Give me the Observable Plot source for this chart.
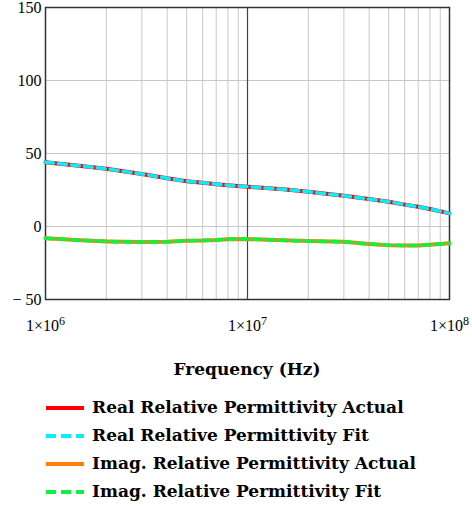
<!DOCTYPE html>
<html>
<head>
<meta charset="utf-8">
<script src="https://cdn.jsdelivr.net/npm/d3@7"></script>
<script src="https://cdn.jsdelivr.net/npm/@observablehq/plot@0.6"></script>
<style>
  html, body { margin: 0; padding: 0; background: #fff; }
  #wrap { position: relative; width: 472px; height: 508px; overflow: hidden; }
  #wrap svg text, #wrap svg tspan { font-family: "Liberation Serif", "Times New Roman", serif !important; }
  #xtitle { position: absolute; left: 0; width: 494px; top: 359px; text-align: center;
            font-family: "DejaVu Serif", serif; font-weight: bold; font-size: 17px; color: #000; }
  .lg { position: absolute; left: 0; height: 26px; width: 472px; }
  .lg svg { position: absolute; left: 44px; top: 0; }
  .lg span { position: absolute; left: 92px; top: 2px; font-family: "DejaVu Serif", serif;
             font-weight: bold; font-size: 17px; line-height: 20px; color: #000; white-space: nowrap; }
</style>
</head>
<body>
<div id="wrap"></div>
<script>
// ---- data ----
const freq = [1e6, 1.5e6, 2e6, 3e6, 4e6, 5e6, 6e6, 7e6, 8e6, 1e7, 1.5e7, 2e7, 3e7, 4e7, 5e7, 6e7, 7e7, 8e7, 1e8];
const realActual = [44, 41.5, 39.5, 36, 33, 31, 30, 29, 28.3, 27.3, 25.5, 23.8, 21, 18.8, 17, 15, 13.5, 12, 9];
const realFit    = [44, 41.5, 39.5, 36, 33, 31, 30, 29, 28.3, 27.3, 25.5, 23.8, 21, 18.8, 17, 15, 13.5, 12, 9];
const imagActual = [-8, -9.5, -10.2, -10.7, -10.5, -9.7, -9.6, -9.3, -8.7, -8.5, -9.5, -10, -10.5, -12, -12.8, -13, -13, -12.5, -11.5];
const imagFit    = [-8, -9.5, -10.2, -10.7, -10.5, -9.7, -9.6, -9.3, -8.7, -8.5, -9.5, -10, -10.5, -12, -12.8, -13, -13, -12.5, -11.5];
const xTicks = [1e6, 1e7, 1e8];
const xTickLabels = ["1×10^6", "1×10^7", "1×10^8"];
const yTicks = [-50, 0, 50, 100, 150];
const yGrid = [0, 50, 100];
const xMinor = [2e6,3e6,4e6,5e6,6e6,7e6,8e6,9e6,2e7,3e7,4e7,5e7,6e7,7e7,8e7,9e7];
const seriesNames = ["Real Relative Permittivity Actual", "Real Relative Permittivity Fit",
                     "Imag. Relative Permittivity Actual", "Imag. Relative Permittivity Fit"];
const xTitle = "Frequency (Hz)";

const mk = (ys) => freq.map((f, i) => ({f, v: ys[i]}));

const svg = Plot.plot({
  width: 472, height: 340,
  marginLeft: 45, marginRight: 23, marginTop: 7, marginBottom: 41,
  x: {type: "log", domain: [1e6, 1e8]},
  y: {domain: [-50, 150]},
  style: {fontFamily: "Liberation Serif, serif", fontSize: "16px", color: "#000", background: "#fff", overflow: "visible"},
  marks: [
    Plot.ruleX(xMinor, {stroke: "#c8c8c8", strokeWidth: 1}),
    Plot.ruleY(yGrid, {stroke: "#c8c8c8", strokeWidth: 1}),
    Plot.ruleX([1e7], {stroke: "#444", strokeWidth: 1.2}),
    Plot.frame({stroke: "#333", strokeWidth: 1.5}),
    Plot.line(mk(realActual), {x: "f", y: "v", stroke: "#ff0000", strokeWidth: 4}),
    Plot.line(mk(realFit), {x: "f", y: "v", stroke: "#00f0ff", strokeWidth: 3.5, strokeDasharray: "8,5"}),
    Plot.line(mk(imagActual), {x: "f", y: "v", stroke: "#ff8000", strokeWidth: 4}),
    Plot.line(mk(imagFit), {x: "f", y: "v", stroke: "#10f040", strokeWidth: 3.5, strokeDasharray: "8,5"}),
    Plot.axisX(xTicks, {tickSize: 0, tickPadding: 20, label: null, fontSize: 16,
      tickFormat: (d) => xTickLabels[xTicks.indexOf(d)]}),
    Plot.axisY(yTicks, {tickSize: 0, tickPadding: 4, label: null, fontSize: 16,
      tickFormat: (d) => d < 0 ? "\u2212 " + Math.abs(d) : String(d)})
  ]
});

// superscript exponents on x tick labels
d3.select(svg).selectAll('g[aria-label="x-axis tick label"] text').each(function() {
  const t = this.textContent;
  if (t.includes("^")) {
    const [base, exp] = t.split("^");
    const sel = d3.select(this);
    sel.text(base);
    sel.append("tspan").attr("dy", "-0.45em").attr("font-size", "12px").text(exp);
  }
});
d3.select(svg).selectAll("text").style("font-family", "'Liberation Serif', 'Times New Roman', serif");

const wrap = document.getElementById("wrap");
wrap.appendChild(svg);
svg.style.position = "absolute"; svg.style.left = "0"; svg.style.top = "0";

const title = document.createElement("div");
title.id = "xtitle";
title.textContent = xTitle;
wrap.appendChild(title);

const legendStyles = [
  {color: "#ff0000", dash: null},
  {color: "#00f0ff", dash: "10,5"},
  {color: "#ff8000", dash: null},
  {color: "#10f040", dash: "10,5"}
];
seriesNames.forEach((name, i) => {
  const row = document.createElement("div");
  row.className = "lg";
  row.style.top = (395 + i * 28) + "px";
  const s = d3.create("svg").attr("width", 42).attr("height", 26);
  s.append("line").attr("x1", 2).attr("x2", 40).attr("y1", 13).attr("y2", 13)
    .attr("stroke", legendStyles[i].color).attr("stroke-width", 4)
    .attr("stroke-dasharray", legendStyles[i].dash);
  row.appendChild(s.node());
  const sp = document.createElement("span");
  sp.textContent = name;
  row.appendChild(sp);
  wrap.appendChild(row);
});
</script>
</body>
</html>
